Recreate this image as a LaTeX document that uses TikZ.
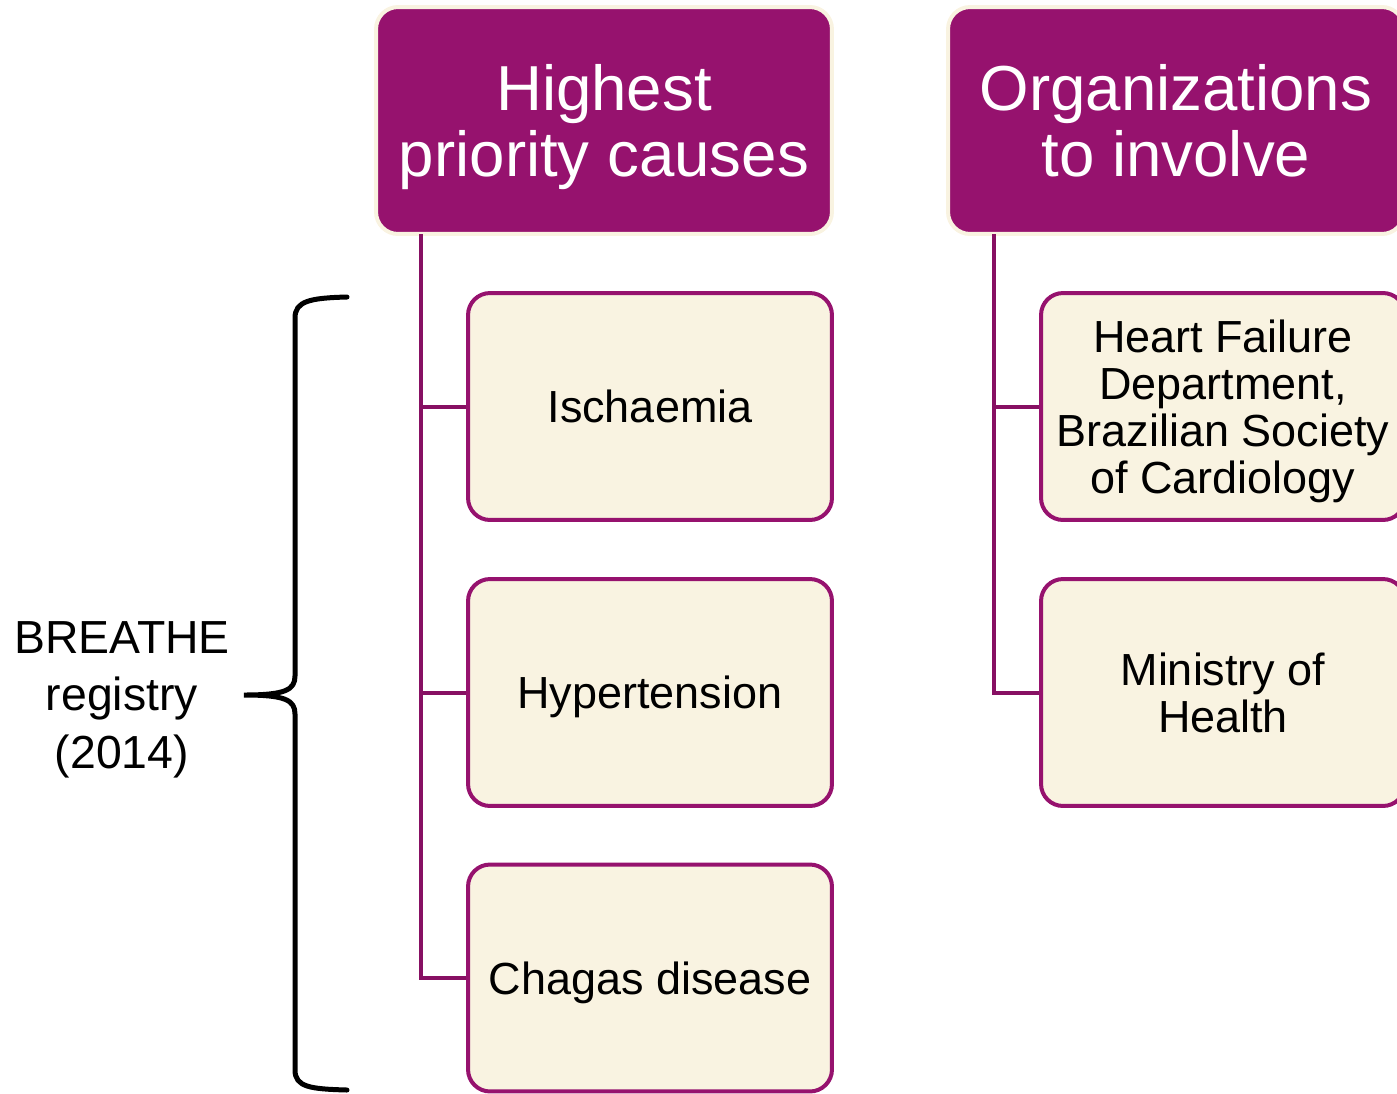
\documentclass[tikz,border=0pt]{standalone}
\usepackage{fontspec}
\setmainfont{Liberation Sans}
\usepackage{tikz}
\usetikzlibrary{calc}
\definecolor{berry}{RGB}{150,18,110}
\definecolor{cream}{RGB}{249,243,225}

\begin{document}
\begin{tikzpicture}[x=0.02cm, y=-0.02cm,
  head/.style={fill=berry, draw=cream, line width=0.08cm, rounded corners=0.44cm,
    minimum width=9.12cm, minimum height=4.54cm, text=white, align=center,
    text depth=0pt, font=\fontsize{36.2}{37.6}\selectfont},
  item/.style={fill=cream, draw=berry, line width=0.08cm, rounded corners=0.44cm,
    minimum width=7.28cm, minimum height=4.54cm, align=center,
    text depth=0pt, font=\fontsize{25.6}{26.7}\selectfont},
  link/.style={draw=berry!90!black, line width=0.08cm}]
\useasboundingbox (0,0) rectangle (1397,1093);
\node[head] (prio) at (604,120.5) {Highest\\priority causes};
\node[head] (orgs) at (1176,120.5) {Organizations\\to involve};
\node[item] (isch) at (650,406.5) {Ischaemia};
\node[item] (hyper) at (650,692.5) {Hypertension};
\node[item] (chagas) at (650,978) {Chagas disease};
\node[item] (sbc) at (1223,406.5) {Heart Failure\\Department,\\Brazilian Society\\of Cardiology};
\node[item] (minis) at (1223,692.5) {Ministry of\\Health};
\coordinate (trunkL) at (421,234);
\coordinate (trunkR) at (994,234);
\foreach \b in {isch,hyper,chagas} \draw[link] (trunkL) |- (\b.west);
\foreach \b in {sbc,minis} \draw[link] (trunkR) |- (\b.west);
\node[align=center, text depth=0pt, font=\fontsize{26.4}{32.7}\selectfont] (breathe) at (122,695) {BREATHE\\registry\\(2014)};
\draw[line width=0.1cm, line cap=round]
  (347,297) .. controls (310,298) and (295,301) .. (295,318) -- (295,676)
  .. controls (295,690) and (285,695) .. (244,695)
  .. controls (285,695) and (295,700) .. (295,714) -- (295,1070)
  .. controls (295,1087) and (310,1089) .. (347,1090);
\end{tikzpicture}
\end{document}
